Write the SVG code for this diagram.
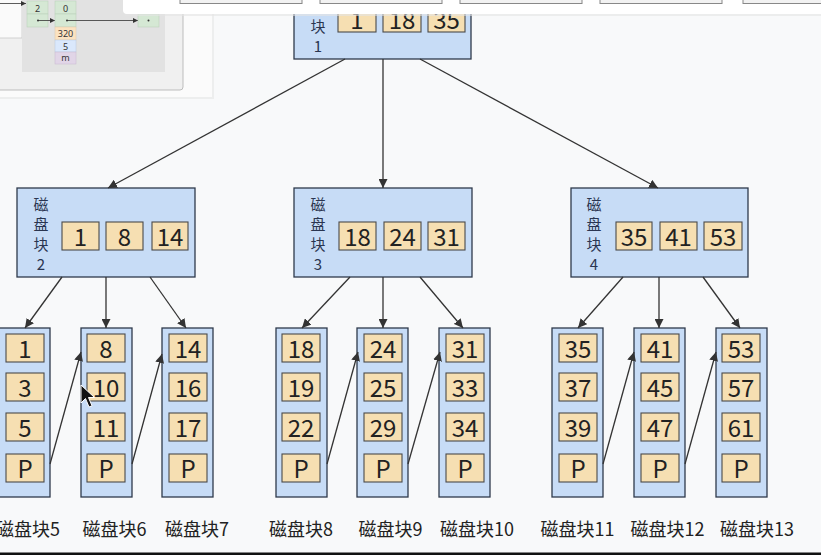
<svg xmlns="http://www.w3.org/2000/svg" width="821" height="555" viewBox="0 0 821 555">
<style>
.bg{fill:#f8f9fa}
.node{fill:#c7dcf6;stroke:#2e3a4c;stroke-width:1.3}
.key{fill:#f6dfb2;stroke:#4a4a4a;stroke-width:1.1}
.kt{font-family:"Noto Sans CJK SC","Noto Sans",sans-serif;font-size:24px;fill:#222;text-anchor:middle}
.vl{font-family:"Noto Sans CJK SC","Noto Sans",sans-serif;font-size:15px;fill:#2a3550;text-anchor:middle}
.lbl{font-family:"Noto Sans CJK SC","Noto Sans",sans-serif;font-size:18px;fill:#222;text-anchor:middle}
.edge{stroke:#333;stroke-width:1.3;fill:none;marker-end:url(#arr)}
.cell{font-family:"Noto Sans","DejaVu Sans",sans-serif;font-size:9px;fill:#333;text-anchor:middle}
</style>
<defs>
<marker id="arr" viewBox="0 0 10 10" refX="10" refY="5" markerWidth="9" markerHeight="9" markerUnits="userSpaceOnUse" orient="auto">
<path d="M0,0 L10,5 L0,10 z" fill="#333"/>
</marker>
<marker id="sarr" viewBox="0 0 10 10" refX="10" refY="5" markerWidth="5" markerHeight="5" markerUnits="userSpaceOnUse" orient="auto">
<path d="M0,0 L10,5 L0,10 z" fill="#333"/>
</marker>
</defs>
<rect class="bg" x="0" y="0" width="821" height="555"/>

<!-- root -->
<g id="node1">
<rect class="node" x="294" y="-30" width="177" height="89"/>
<text class="vl" x="318" y="32">块</text>
<text class="vl" x="318" y="52">1</text>
<rect class="key" x="338" y="4" width="38" height="28"/>
<rect class="key" x="383" y="4" width="38" height="28"/>
<rect class="key" x="428" y="4" width="37" height="28"/>
<text class="kt" x="357" y="29">1</text>
<text class="kt" x="402" y="29">18</text>
<text class="kt" x="446.5" y="29">35</text>
</g>

<g id="node2">
<rect class="node" x="17" y="188" width="178" height="89"/>
<text class="vl" x="41" y="210">磁</text>
<text class="vl" x="41" y="230">盘</text>
<text class="vl" x="41" y="250">块</text>
<text class="vl" x="41" y="270">2</text>
<rect class="key" x="62" y="222" width="37" height="28"/>
<rect class="key" x="106" y="222" width="37" height="28"/>
<rect class="key" x="152" y="222" width="36" height="28"/>
<text class="kt" x="80.5" y="246">1</text>
<text class="kt" x="124.5" y="246">8</text>
<text class="kt" x="170" y="246">14</text>
</g>

<g id="node3">
<rect class="node" x="294" y="188" width="178" height="89"/>
<text class="vl" x="318" y="210">磁</text>
<text class="vl" x="318" y="230">盘</text>
<text class="vl" x="318" y="250">块</text>
<text class="vl" x="318" y="270">3</text>
<rect class="key" x="339" y="222" width="37" height="28"/>
<rect class="key" x="384" y="222" width="37" height="28"/>
<rect class="key" x="428" y="222" width="37" height="28"/>
<text class="kt" x="357.5" y="246">18</text>
<text class="kt" x="402.5" y="246">24</text>
<text class="kt" x="446.5" y="246">31</text>
</g>

<g id="node4">
<rect class="node" x="571" y="188" width="177" height="89"/>
<text class="vl" x="594" y="210">磁</text>
<text class="vl" x="594" y="230">盘</text>
<text class="vl" x="594" y="250">块</text>
<text class="vl" x="594" y="270">4</text>
<rect class="key" x="616" y="222" width="36" height="28"/>
<rect class="key" x="660" y="222" width="37" height="28"/>
<rect class="key" x="704" y="222" width="38" height="28"/>
<text class="kt" x="634" y="246">35</text>
<text class="kt" x="678.5" y="246">41</text>
<text class="kt" x="723" y="246">53</text>
</g>

<!-- leaves -->
<g id="leaf5">
<rect class="node" x="-1" y="328" width="51" height="169"/>
<rect class="key" x="6" y="334" width="38" height="28"/><text class="kt" x="25" y="358">1</text>
<rect class="key" x="6" y="373" width="38" height="28"/><text class="kt" x="25" y="397">3</text>
<rect class="key" x="6" y="413" width="38" height="28"/><text class="kt" x="25" y="437">5</text>
<rect class="key" x="6" y="454" width="38" height="28"/><text class="kt" x="25" y="478">P</text>
<text class="lbl" x="28" y="536">磁盘块5</text>
</g>
<g id="leaf6">
<rect class="node" x="81" y="328" width="51" height="169"/>
<rect class="key" x="87" y="334" width="38" height="28"/><text class="kt" x="106" y="358">8</text>
<rect class="key" x="87" y="373" width="38" height="28"/><text class="kt" x="106" y="397">10</text>
<rect class="key" x="87" y="413" width="38" height="28"/><text class="kt" x="106" y="437">11</text>
<rect class="key" x="87" y="454" width="38" height="28"/><text class="kt" x="106" y="478">P</text>
<text class="lbl" x="114.5" y="536">磁盘块6</text>
</g>
<g id="leaf7">
<rect class="node" x="162" y="328" width="51" height="169"/>
<rect class="key" x="169" y="334" width="38" height="28"/><text class="kt" x="188" y="358">14</text>
<rect class="key" x="169" y="373" width="38" height="28"/><text class="kt" x="188" y="397">16</text>
<rect class="key" x="169" y="413" width="38" height="28"/><text class="kt" x="188" y="437">17</text>
<rect class="key" x="169" y="454" width="38" height="28"/><text class="kt" x="188" y="478">P</text>
<text class="lbl" x="197" y="536">磁盘块7</text>
</g>
<g id="leaf8">
<rect class="node" x="276" y="328" width="51" height="169"/>
<rect class="key" x="282" y="334" width="38" height="28"/><text class="kt" x="301" y="358">18</text>
<rect class="key" x="282" y="373" width="38" height="28"/><text class="kt" x="301" y="397">19</text>
<rect class="key" x="282" y="413" width="38" height="28"/><text class="kt" x="301" y="437">22</text>
<rect class="key" x="282" y="454" width="38" height="28"/><text class="kt" x="301" y="478">P</text>
<text class="lbl" x="301" y="536">磁盘块8</text>
</g>
<g id="leaf9">
<rect class="node" x="357" y="328" width="51" height="169"/>
<rect class="key" x="364" y="334" width="38" height="28"/><text class="kt" x="383" y="358">24</text>
<rect class="key" x="364" y="373" width="38" height="28"/><text class="kt" x="383" y="397">25</text>
<rect class="key" x="364" y="413" width="38" height="28"/><text class="kt" x="383" y="437">29</text>
<rect class="key" x="364" y="454" width="38" height="28"/><text class="kt" x="383" y="478">P</text>
<text class="lbl" x="390.5" y="536">磁盘块9</text>
</g>
<g id="leaf10">
<rect class="node" x="439" y="328" width="51" height="169"/>
<rect class="key" x="446" y="334" width="38" height="28"/><text class="kt" x="465" y="358">31</text>
<rect class="key" x="446" y="373" width="38" height="28"/><text class="kt" x="465" y="397">33</text>
<rect class="key" x="446" y="413" width="38" height="28"/><text class="kt" x="465" y="437">34</text>
<rect class="key" x="446" y="454" width="38" height="28"/><text class="kt" x="465" y="478">P</text>
<text class="lbl" x="477" y="536">磁盘块10</text>
</g>
<g id="leaf11">
<rect class="node" x="552" y="328" width="51" height="169"/>
<rect class="key" x="559" y="334" width="38" height="28"/><text class="kt" x="578" y="358">35</text>
<rect class="key" x="559" y="373" width="38" height="28"/><text class="kt" x="578" y="397">37</text>
<rect class="key" x="559" y="413" width="38" height="28"/><text class="kt" x="578" y="437">39</text>
<rect class="key" x="559" y="454" width="38" height="28"/><text class="kt" x="578" y="478">P</text>
<text class="lbl" x="577.5" y="536">磁盘块11</text>
</g>
<g id="leaf12">
<rect class="node" x="634" y="328" width="51" height="169"/>
<rect class="key" x="641" y="334" width="38" height="28"/><text class="kt" x="660" y="358">41</text>
<rect class="key" x="641" y="373" width="38" height="28"/><text class="kt" x="660" y="397">45</text>
<rect class="key" x="641" y="413" width="38" height="28"/><text class="kt" x="660" y="437">47</text>
<rect class="key" x="641" y="454" width="38" height="28"/><text class="kt" x="660" y="478">P</text>
<text class="lbl" x="667.5" y="536">磁盘块12</text>
</g>
<g id="leaf13">
<rect class="node" x="716" y="328" width="51" height="169"/>
<rect class="key" x="722" y="334" width="38" height="28"/><text class="kt" x="741" y="358">53</text>
<rect class="key" x="722" y="373" width="38" height="28"/><text class="kt" x="741" y="397">57</text>
<rect class="key" x="722" y="413" width="38" height="28"/><text class="kt" x="741" y="437">61</text>
<rect class="key" x="722" y="454" width="38" height="28"/><text class="kt" x="741" y="478">P</text>
<text class="lbl" x="757" y="536">磁盘块13</text>
</g>

<g id="connectors">
<line class="edge" x1="345" y1="59" x2="108" y2="188"/>
<line class="edge" x1="383" y1="59" x2="383" y2="188"/>
<line class="edge" x1="420" y1="59" x2="658" y2="188"/>
<line class="edge" x1="62" y1="277" x2="25" y2="328"/>
<line class="edge" x1="106" y1="277" x2="106" y2="328"/>
<line class="edge" x1="150" y1="277" x2="186" y2="328"/>
<line class="edge" x1="350" y1="277" x2="302" y2="328"/>
<line class="edge" x1="383" y1="277" x2="383" y2="328"/>
<line class="edge" x1="420" y1="277" x2="463" y2="328"/>
<line class="edge" x1="623" y1="277" x2="578" y2="328"/>
<line class="edge" x1="659" y1="277" x2="659" y2="328"/>
<line class="edge" x1="703" y1="277" x2="740" y2="328"/>
<line class="edge" x1="50" y1="464" x2="81" y2="352"/>
<line class="edge" x1="132" y1="464" x2="162" y2="354"/>
<line class="edge" x1="327" y1="464" x2="358" y2="352"/>
<line class="edge" x1="408" y1="464" x2="440" y2="352"/>
<line class="edge" x1="603" y1="464" x2="634" y2="352"/>
<line class="edge" x1="685" y1="464" x2="716" y2="352"/>
</g>

<!-- bottom edge -->
<rect x="0" y="552.5" width="821" height="2.5" fill="#111"/>

<!-- overlapping window top-left -->
<g id="overlay-left">
<rect x="0" y="0" width="214" height="99" fill="#e6e6e6" opacity="0.6"/>
<rect x="0" y="0" width="212" height="97" fill="#fbfbfb"/>
<rect x="-5" y="-5" width="188" height="95" rx="3" fill="#f0f0f0" stroke="#bdbdbd" stroke-width="1"/>
<rect x="-5" y="-5" width="27" height="43" fill="#fafafa" stroke="#c8c8c8" stroke-width="0.8"/>
<rect x="22" y="-5" width="143" height="77" fill="#e2e2e2"/>
<line x1="0" y1="3.5" x2="26" y2="3.5" stroke="#333" stroke-width="0.8" marker-end="url(#sarr)"/>
<rect x="27" y="1" width="21" height="13" fill="#d5e8d4" stroke="#b9cfb7" stroke-width="0.5"/>
<rect x="27" y="14" width="21" height="13" fill="#d5e8d4" stroke="#b9cfb7" stroke-width="0.5"/>
<text class="cell" x="37.5" y="11.5">2</text>
<circle cx="38" cy="20.5" r="1" fill="#333"/>
<line x1="38" y1="20.5" x2="55" y2="20.5" stroke="#333" stroke-width="0.8" marker-end="url(#sarr)"/>
<rect x="55" y="1" width="21" height="13" fill="#d5e8d4" stroke="#b9cfb7" stroke-width="0.5"/>
<rect x="55" y="14" width="21" height="13" fill="#d5e8d4" stroke="#b9cfb7" stroke-width="0.5"/>
<text class="cell" x="65.5" y="11.5">0</text>
<circle cx="67" cy="20.5" r="1" fill="#333"/>
<line x1="67" y1="20.5" x2="138" y2="20.5" stroke="#333" stroke-width="0.8" marker-end="url(#sarr)"/>
<rect x="138" y="14" width="21" height="13" fill="#d5e8d4" stroke="#b9cfb7" stroke-width="0.5"/>
<circle cx="148.5" cy="20.5" r="1" fill="#333"/>
<rect x="55" y="27" width="21" height="13" fill="#fbe2c0" stroke="#e0c8a8" stroke-width="0.5"/>
<text class="cell" x="65.5" y="37">320</text>
<rect x="55" y="40" width="21" height="12" fill="#dae8fc" stroke="#b8c8e0" stroke-width="0.5"/>
<text class="cell" x="65.5" y="49.5">5</text>
<rect x="55" y="52" width="21" height="12" fill="#e1d5e7" stroke="#c8b8d0" stroke-width="0.5"/>
<text class="cell" x="65.5" y="61">m</text>
</g>

<!-- overlapping window top -->
<g id="overlay-top">
<rect x="125" y="0" width="700" height="16" fill="#e4e4e4" opacity="0.6"/>
<rect x="123" y="-6" width="705" height="20" rx="4" fill="#ffffff"/>
<rect x="180" y="-10" width="122" height="13.5" fill="#f2f2f2" stroke="#888" stroke-width="1"/>
<rect x="320" y="-10" width="122" height="13.5" fill="#f2f2f2" stroke="#888" stroke-width="1"/>
<rect x="460" y="-10" width="122" height="13.5" fill="#f2f2f2" stroke="#888" stroke-width="1"/>
<rect x="600" y="-10" width="122" height="13.5" fill="#f2f2f2" stroke="#888" stroke-width="1"/>
<rect x="743" y="-10" width="100" height="13.5" fill="#f2f2f2" stroke="#888" stroke-width="1"/>
</g>

<!-- mouse pointer -->
<path d="M81,385 L81,403 L85.5,398.5 L89,407 L92,405.8 L88.5,397.5 L94.5,397.5 Z" fill="#111" stroke="#fff" stroke-width="1"/>
</svg>
